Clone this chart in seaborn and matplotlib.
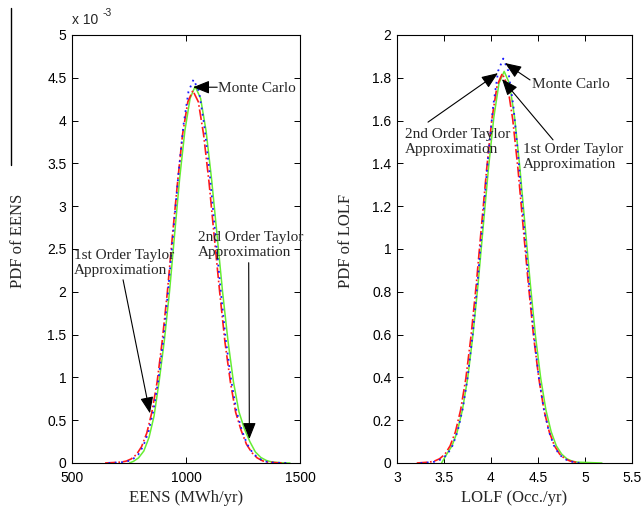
import numpy as np
import pandas as pd
import matplotlib
matplotlib.use("Agg")
import matplotlib.pyplot as plt
from matplotlib.lines import Line2D
from matplotlib.ticker import FuncFormatter
import seaborn as sns

# ---------------- data ----------------
# Left panel: PDF of EENS (values in units of 1e-3)
eens_mc_x = [660, 725, 747, 769, 791, 813, 835, 857, 879, 901, 923, 945, 967, 989, 1011, 1033,
             1057, 1080, 1104, 1127, 1151, 1174, 1198, 1221, 1245, 1268, 1292, 1315, 1339, 1362, 1400, 1440]
eens_mc_y = [0.0, 0.01, 0.023, 0.05, 0.10, 0.20, 0.36, 0.61, 0.97, 1.45, 2.05, 2.72, 3.38, 3.95, 4.34, 4.48,
             4.34, 3.95, 3.38, 2.72, 2.05, 1.45, 0.97, 0.61, 0.38, 0.22, 0.12, 0.06, 0.025, 0.01, 0.003, 0.0]

eens_t1_x = [645, 715, 738, 760, 783, 805, 828, 850, 873, 895, 918, 940, 963, 985, 1008, 1030,
             1054, 1077, 1101, 1124, 1148, 1171, 1195, 1218, 1242, 1265, 1289, 1312, 1336, 1359, 1400, 1442]
eens_t1_y = [0.0, 0.01, 0.022, 0.048, 0.10, 0.19, 0.35, 0.59, 0.94, 1.41, 1.99, 2.64, 3.28, 3.84, 4.22, 4.35,
             4.22, 3.84, 3.28, 2.64, 1.99, 1.41, 0.94, 0.59, 0.38, 0.22, 0.12, 0.06, 0.025, 0.01, 0.003, 0.0]

eens_t2_x = [752, 770, 792, 815, 838, 860, 882, 905, 928, 950, 972, 995, 1018, 1040,
             1064, 1088, 1112, 1136, 1160, 1184, 1208, 1232, 1256, 1280, 1304, 1328, 1352, 1376, 1410, 1456]
eens_t2_y = [0.0, 0.02, 0.06, 0.14, 0.30, 0.55, 0.95, 1.43, 2.01, 2.67, 3.32, 3.88, 4.26, 4.40,
             4.26, 3.88, 3.32, 2.67, 2.01, 1.43, 0.95, 0.60, 0.40, 0.25, 0.13, 0.065, 0.03, 0.012, 0.004, 0.0]

# Right panel: PDF of LOLF
lolf_mc_x = [3.25, 3.378, 3.431, 3.485, 3.539, 3.593, 3.646, 3.700, 3.754, 3.808, 3.861, 3.915, 3.969,
             4.023, 4.076, 4.130, 4.184, 4.238, 4.291, 4.345, 4.399, 4.453, 4.506, 4.560, 4.614, 4.668,
             4.721, 4.775, 4.829, 4.883, 4.95]
lolf_mc_y = [0.0, 0.004, 0.0096, 0.021, 0.043, 0.083, 0.150, 0.256, 0.409, 0.614, 0.865, 1.146, 1.427,
             1.668, 1.832, 1.890, 1.832, 1.668, 1.427, 1.146, 0.865, 0.614, 0.409, 0.256, 0.150, 0.083,
             0.043, 0.021, 0.0096, 0.004, 0.0]

lolf_t1_x = [3.21, 3.343, 3.399, 3.454, 3.510, 3.565, 3.621, 3.676, 3.732, 3.787, 3.843, 3.898, 3.954,
             4.009, 4.065, 4.120, 4.176, 4.231, 4.287, 4.342, 4.398, 4.453, 4.509, 4.564, 4.620, 4.675,
             4.731, 4.786, 4.842, 4.897, 4.93]
lolf_t1_y = [0.0, 0.004, 0.009, 0.020, 0.041, 0.080, 0.145, 0.246, 0.394, 0.591, 0.833, 1.104, 1.374,
             1.606, 1.764, 1.820, 1.764, 1.606, 1.374, 1.104, 0.833, 0.591, 0.394, 0.246, 0.145, 0.080,
             0.041, 0.020, 0.009, 0.004, 0.0]

lolf_t2_x = [3.474, 3.530, 3.585, 3.641, 3.696, 3.752, 3.807, 3.863, 3.918, 3.974,
             4.030, 4.085, 4.140, 4.196, 4.251, 4.307, 4.362, 4.418, 4.473, 4.529, 4.584, 4.640, 4.695,
             4.751, 4.806, 4.862, 4.917, 5.18]
lolf_t2_y = [0.0, 0.042, 0.080, 0.146, 0.248, 0.396, 0.594, 0.838, 1.110, 1.381,
             1.615, 1.774, 1.830, 1.774, 1.615, 1.381, 1.110, 0.838, 0.594, 0.396, 0.248, 0.146, 0.080,
             0.042, 0.020, 0.009, 0.004, 0.0]

eens_xticks = [500, 1000, 1500]
eens_yticks = [0, 0.5, 1, 1.5, 2, 2.5, 3, 3.5, 4, 4.5, 5]      # x 1e-3
lolf_xticks = [3, 3.5, 4, 4.5, 5, 5.5]
lolf_yticks = [0, 0.2, 0.4, 0.6, 0.8, 1, 1.2, 1.4, 1.6, 1.8, 2]

# ---------------- style ----------------
sns.set_style("ticks")
plt.rcParams["font.family"] = ["Liberation Sans", "DejaVu Sans"]
plt.rcParams["axes.linewidth"] = 0.8
plt.rcParams["axes.edgecolor"] = "black"

SERIF = ["Liberation Serif", "DejaVu Serif"]
C_MC, C_T1, C_T2 = "#1a1aff", "#ff1a1a", "#66ee33"

fig = plt.figure(figsize=(6.44, 5.14), dpi=100)
W, H = 644, 514
axL = fig.add_axes([72 / W, 1 - 463 / H, (300 - 72) / W, (463 - 35) / H])
axR = fig.add_axes([397 / W, 1 - 463 / H, (632 - 397) / W, (463 - 35) / H])


def draw(ax, xs, ys, scale):
    g_x, g_y, r_x, r_y, b_x, b_y = xs[2], ys[2], xs[1], ys[1], xs[0], ys[0]
    sns.lineplot(x=g_x, y=np.array(g_y) * scale, ax=ax, color=C_T2, linestyle="-", lw=1.1,
                 sort=False, estimator=None)
    sns.lineplot(x=r_x, y=np.array(r_y) * scale, ax=ax, color=C_T1, linestyle="-.", lw=1.2,
                 sort=False, estimator=None)
    sns.lineplot(x=b_x, y=np.array(b_y) * scale, ax=ax, color=C_MC, linestyle=(0, (1, 2.5)), lw=1.3,
                 sort=False, estimator=None)


draw(axL, [eens_mc_x, eens_t1_x, eens_t2_x], [eens_mc_y, eens_t1_y, eens_t2_y], 1e-3)
draw(axR, [lolf_mc_x, lolf_t1_x, lolf_t2_x], [lolf_mc_y, lolf_t1_y, lolf_t2_y], 1.0)

for ax in (axL, axR):
    for s in ax.spines.values():
        s.set_visible(True)
        s.set_color("black")
        s.set_linewidth(0.8)
    ax.tick_params(direction="in", top=True, right=True, length=4.5, width=0.7,
                   labelsize=10, pad=4, colors="black")
    ax.tick_params(axis="x", pad=6)
    ax.grid(False)

axL.set_xlim(500, 1500)
axL.set_ylim(0, 5e-3)
axL.set_xticks(eens_xticks)
axL.set_yticks(np.array(eens_yticks) * 1e-3)
axL.yaxis.set_major_formatter(FuncFormatter(lambda v, p: "%g" % round(v * 1e3, 3)))
axL.xaxis.set_major_formatter(FuncFormatter(lambda v, p: "%g" % v))

axR.set_xlim(3, 5.5)
axR.set_ylim(0, 2)
axR.set_xticks(lolf_xticks)
axR.set_yticks(lolf_yticks)
axR.yaxis.set_major_formatter(FuncFormatter(lambda v, p: "%g" % round(v, 3)))
axR.xaxis.set_major_formatter(FuncFormatter(lambda v, p: "%g" % v))

# axis labels
axL.set_xlabel("EENS (MWh/yr)", family=SERIF, fontsize=12)
axL.set_ylabel("PDF of EENS", family=SERIF, fontsize=12)
axR.set_xlabel("LOLF (Occ./yr)", family=SERIF, fontsize=12)
axR.set_ylabel("PDF of LOLF", family=SERIF, fontsize=12)
axL.xaxis.set_label_coords(0.5, -0.062)
axR.xaxis.set_label_coords(0.5, -0.062)
axL.yaxis.set_label_coords(-0.20, 0.52)
axR.yaxis.set_label_coords(-0.185, 0.52)

# exponent label
fig.text(72 / W, 1 - 24 / H, "x 10", fontsize=10, ha="left", va="baseline")
fig.text(103 / W, 1 - 16 / H, "-3", fontsize=7.5, ha="left", va="baseline")

arrow = dict(arrowstyle="-|>,head_length=1.0,head_width=0.4", color="black", lw=0.8,
             shrinkA=0, shrinkB=0)
TXT = dict(family=SERIF, fontsize=11, ha="left", va="center", linespacing=1.2)

# left annotations
axL.text(1140, 4.38e-3, "Monte Carlo", **TXT)
axL.annotate("", xy=(1031, 4.39e-3), xytext=(1137, 4.39e-3), arrowprops=arrow)
axL.text(509, 2.34e-3, "1st Order Taylor\nApproximation", **TXT)
axL.annotate("", xy=(842, 0.58e-3), xytext=(724, 2.14e-3), arrowprops=arrow)
axL.text(1053, 2.55e-3, "2nd Order Taylor\nApproximation", **TXT)
axL.annotate("", xy=(1278, 0.28e-3), xytext=(1275, 2.34e-3), arrowprops=arrow)

# right annotations
axR.text(4.436, 1.771, "Monte Carlo", **TXT)
axR.annotate("", xy=(4.149, 1.869), xytext=(4.415, 1.79), arrowprops=arrow)
axR.text(3.085, 1.50, "2nd Order Taylor\nApproximation", **TXT)
axR.annotate("", xy=(4.074, 1.822), xytext=(3.33, 1.593), arrowprops=arrow)
axR.text(4.34, 1.428, "1st Order Taylor\nApproximation", **TXT)
axR.annotate("", xy=(4.117, 1.794), xytext=(4.66, 1.51), arrowprops=arrow)

# stray vertical line at the left edge of the original figure
fig.add_artist(Line2D([11 / W, 11 / W], [1 - 8 / H, 1 - 165 / H], color="black", lw=1.0))

fig.savefig("out.png", dpi=100, facecolor="white")
